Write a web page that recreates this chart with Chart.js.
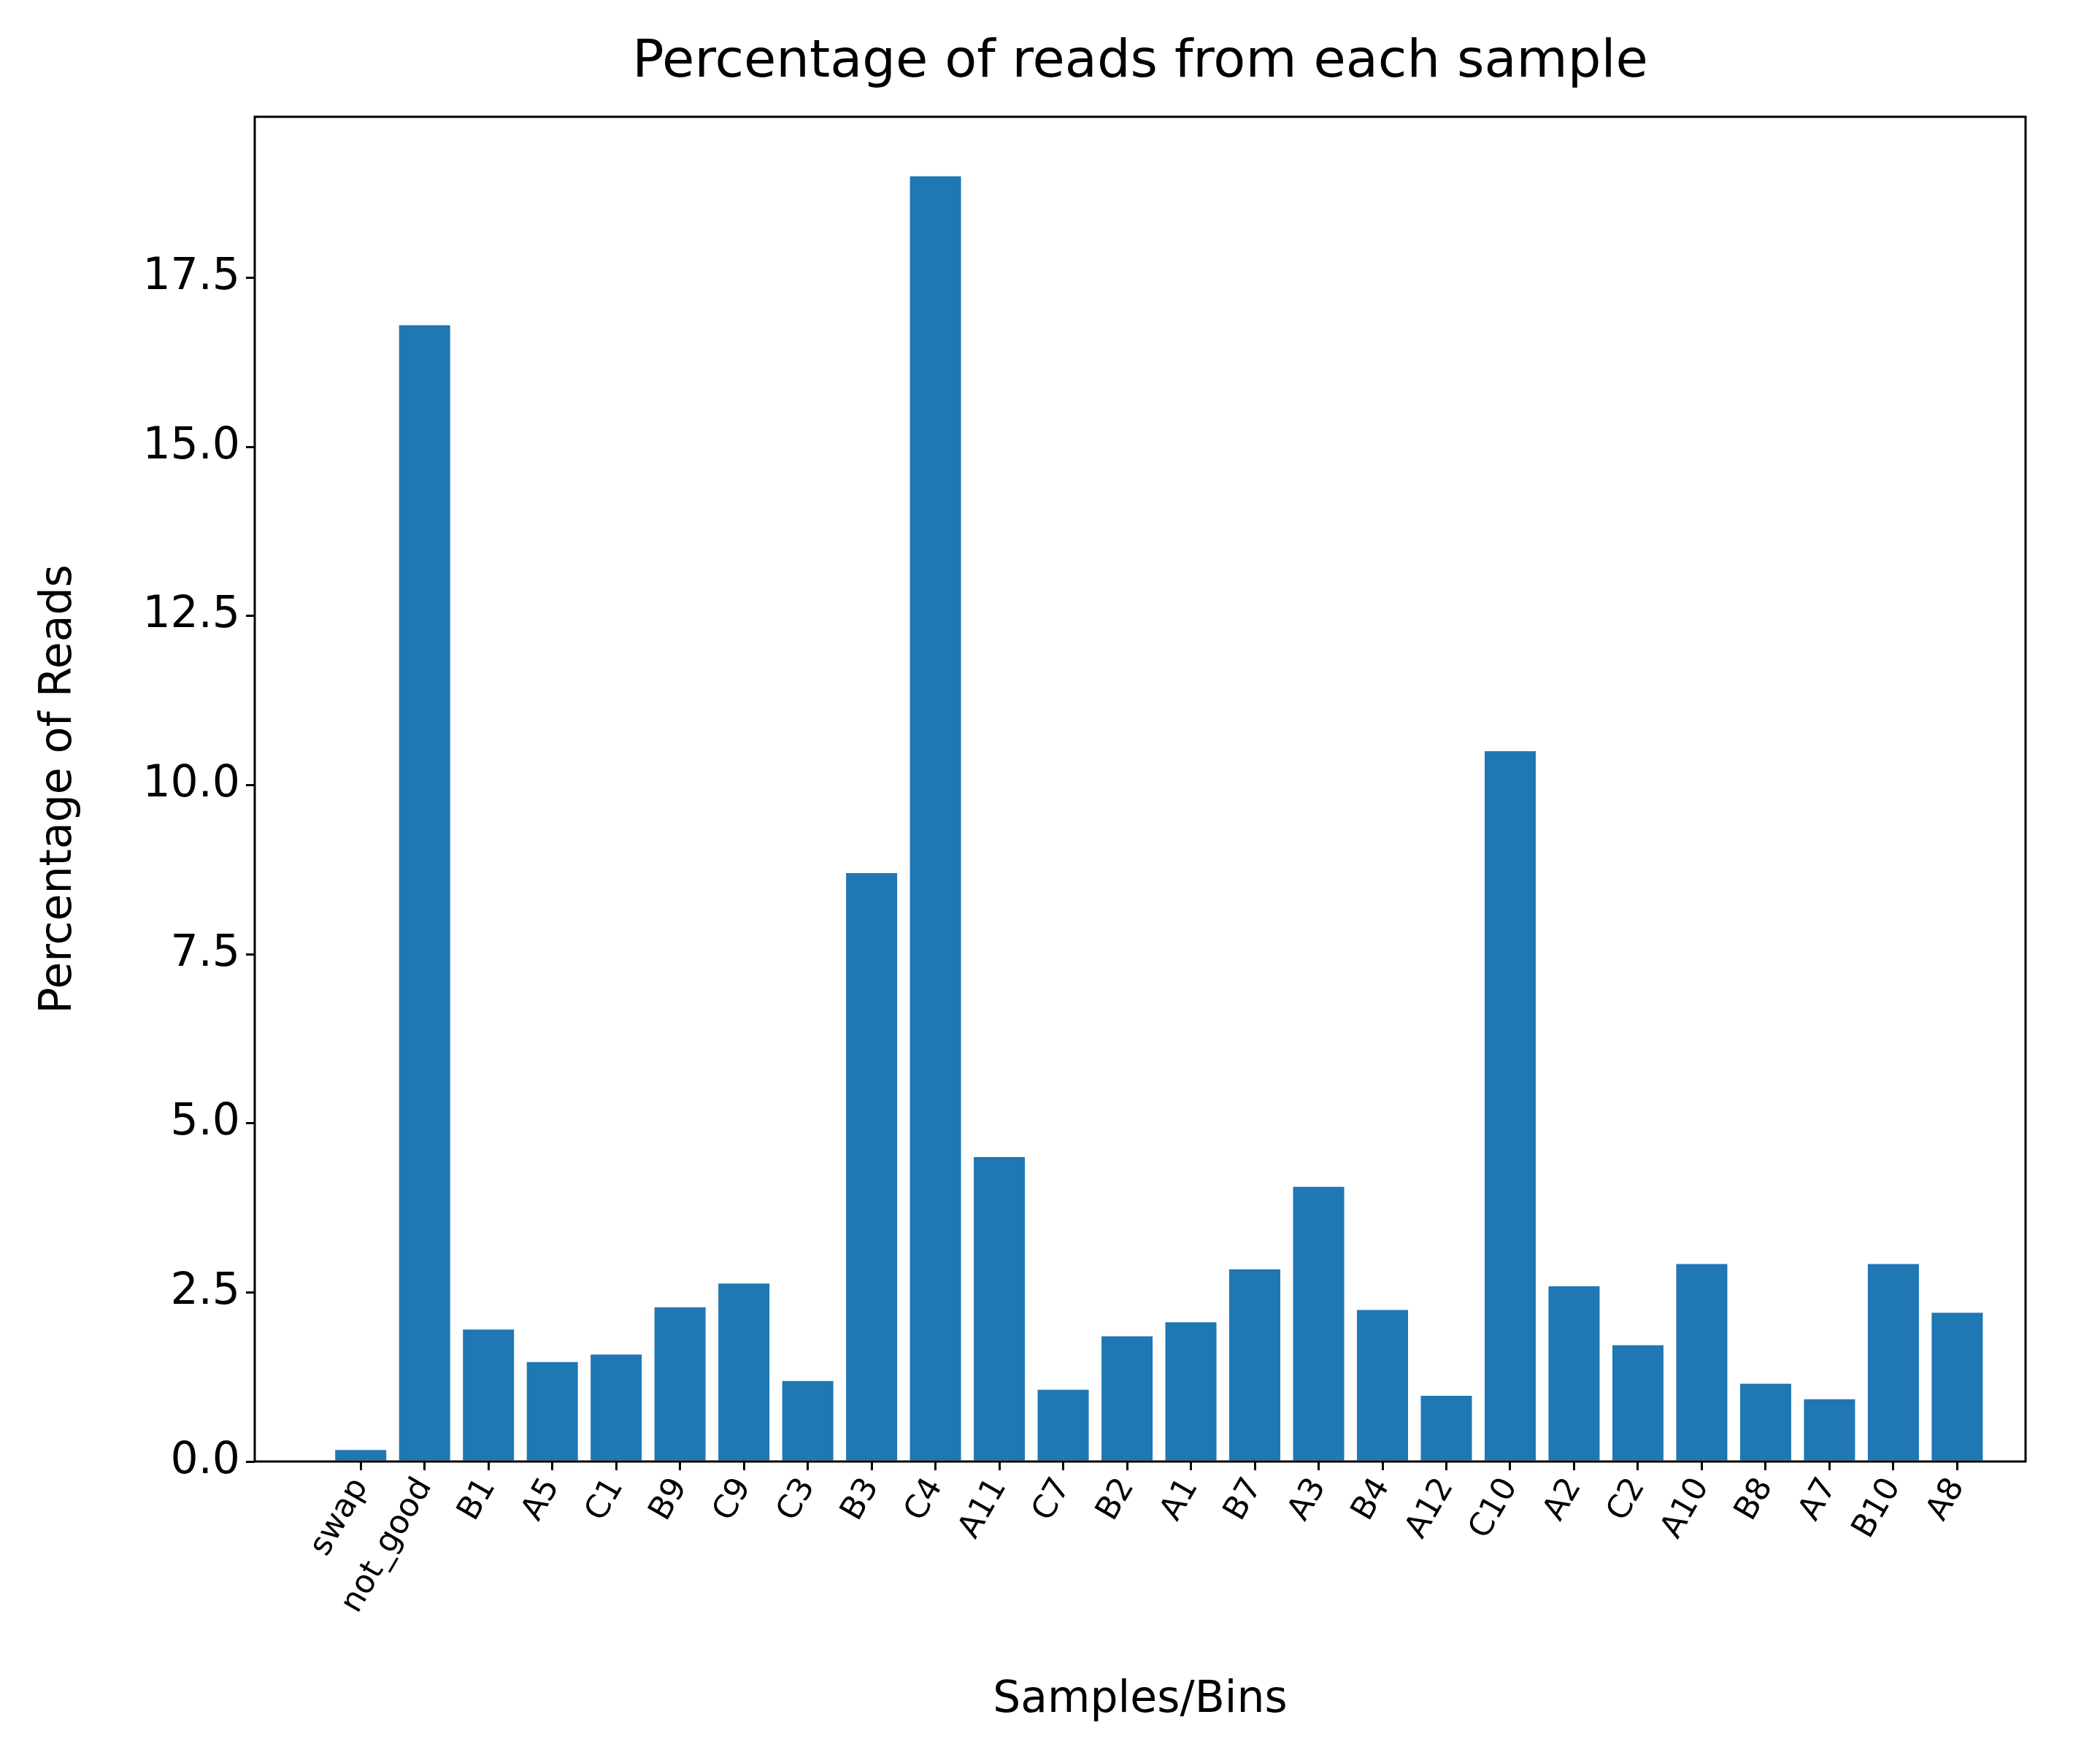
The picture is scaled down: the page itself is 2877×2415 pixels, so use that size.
<!DOCTYPE html>
<html><head><meta charset="utf-8">
<script src="https://cdn.jsdelivr.net/npm/chart.js@4"></script>
<style>body{margin:0;background:#fff}</style>
</head><body>
<canvas id="myChart" width="2877" height="2415" style="width:2877px;height:2415px"></canvas>
<script>
var samples = ['swap','not_good','B1','A5','C1','B9','C9','C3','B3','C4','A11','C7','B2','A1','B7','A3','B4','A12','C10','A2','C2','A10','B8','A7','B10','A8'];
var percents = [0.17,16.8,1.95,1.47,1.58,2.28,2.63,1.19,8.7,19.0,4.5,1.06,1.85,2.06,2.84,4.06,2.24,0.97,10.5,2.59,1.72,2.92,1.15,0.92,2.92,2.2];
var yTicks = [0,2.5,5,7.5,10,12.5,15,17.5];
var chartTitle = 'Percentage of reads from each sample';

// frame round the plot + title centred over the plot area
var frame = {
  id:'frame',
  afterDraw:function(c){
    var a=c.chartArea, ctx=c.ctx;
    ctx.save(); ctx.strokeStyle='#000'; ctx.lineWidth=3;
    ctx.strokeRect(a.left,a.top,a.right-a.left,a.bottom-a.top);
    ctx.fillStyle='#000'; ctx.font='72px "DejaVu Sans"';
    ctx.textAlign='center'; ctx.textBaseline='middle';
    ctx.fillText(chartTitle,(a.left+a.right)/2,86);
    ctx.restore();
  }
};
var ctx = document.getElementById('myChart').getContext('2d');
var readsChart = new Chart(ctx, {
  type:'bar',
  data:{
    datasets:[{
      data:percents.map(function(v,i){return {x:i,y:v};}),
      backgroundColor:'#1f77b4',
      barPercentage:0.8,
      categoryPercentage:1
    }]
  },
  options:{
    responsive:false,
    devicePixelRatio:1,
    animation:false,
    layout:{padding:{left:0,right:102,top:160,bottom:0}},
    plugins:{legend:{display:false},tooltip:{enabled:false},title:{display:false}},
    scales:{
      x:{
        type:'linear', min:-1.66, max:26.07, offset:false,
        afterBuildTicks:function(s){s.ticks=samples.map(function(n,i){return {value:i};});},
        afterFit:function(s){s.height=413;},
        grid:{offset:false,drawOnChartArea:false,drawTicks:true,tickLength:12,color:'#000',lineWidth:3},
        border:{display:false},
        ticks:{autoSkip:false,maxRotation:60,minRotation:60,color:'#000',padding:2,
          font:{family:'DejaVu Sans',size:44},
          callback:function(v){return samples[v];}},
        title:{display:true,text:'Samples/Bins',color:'#000',
          font:{family:'DejaVu Sans',size:60},padding:{top:0,bottom:50}}
      },
      y:{
        min:0, max:19.88,
        afterBuildTicks:function(s){s.ticks=yTicks.map(function(v){return {value:v};});},
        afterFit:function(s){s.width=349;},
        grid:{drawOnChartArea:false,drawTicks:true,tickLength:12,color:'#000',lineWidth:3},
        border:{display:false},
        ticks:{color:'#000',padding:8,font:{family:'DejaVu Sans',size:60},
          callback:function(v){return v.toFixed(1);}},
        title:{display:true,text:'Percentage of Reads',color:'#000',
          font:{family:'DejaVu Sans',size:60},padding:{top:45,bottom:0}}
      }
    }
  },
  plugins:[frame]
});
</script>
</body></html>
